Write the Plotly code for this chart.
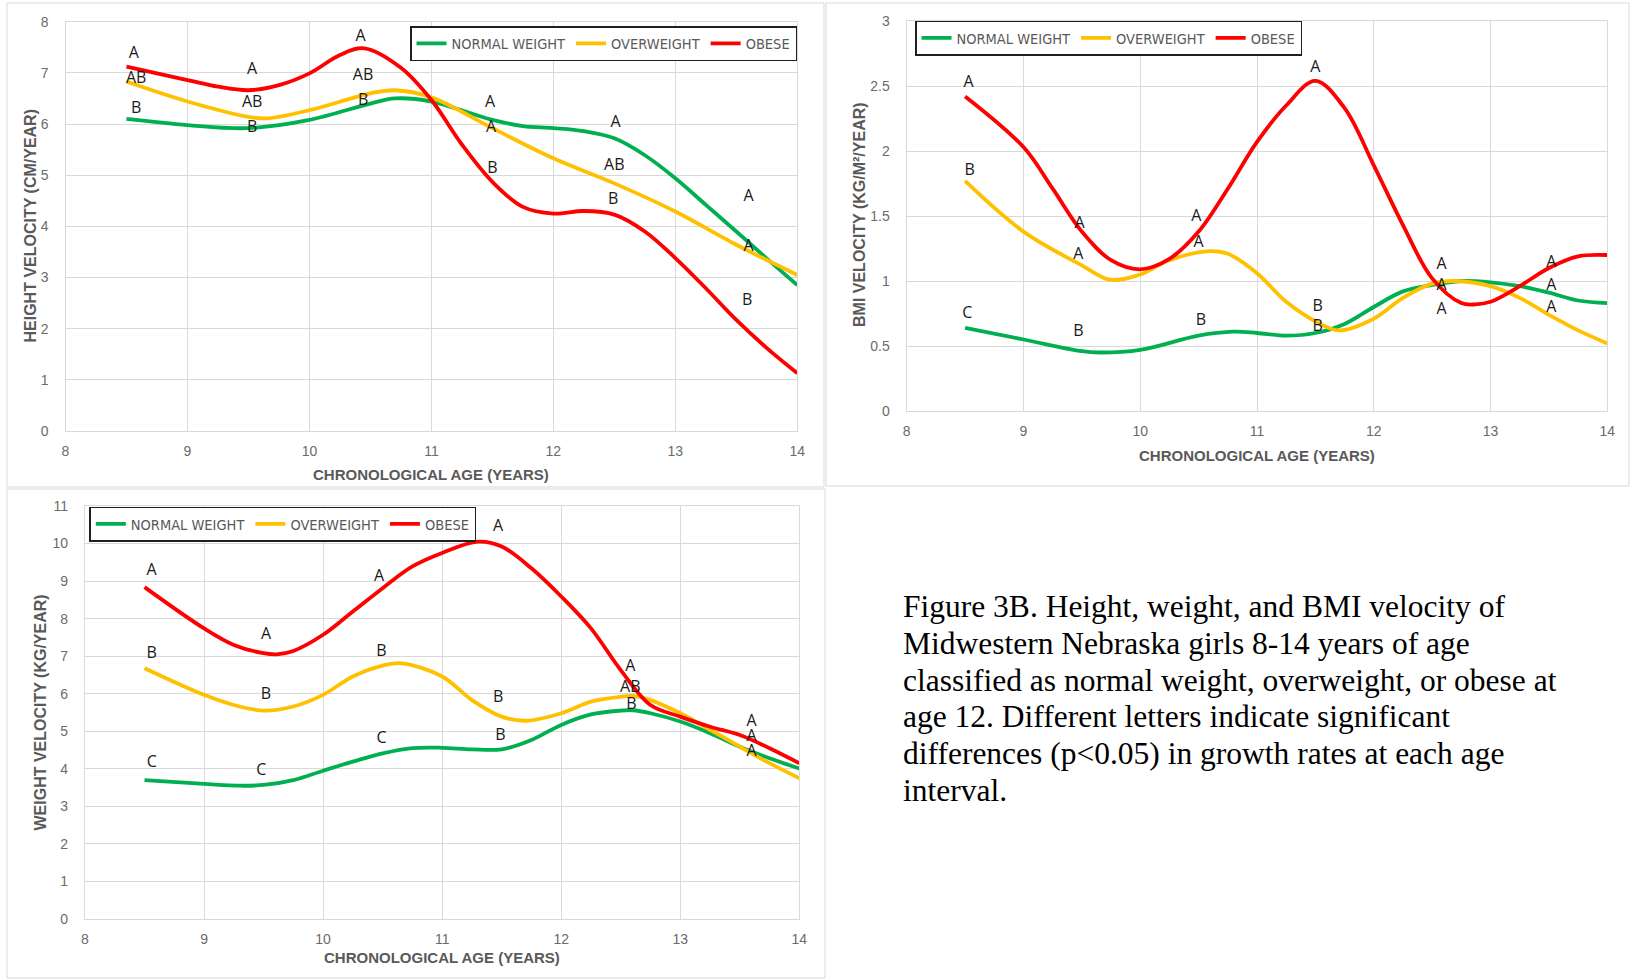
import plotly.graph_objects as go

W, H = 1631, 980

GROUPS = ["NORMAL WEIGHT", "OVERWEIGHT", "OBESE"]
COLORS = ["#00B050", "#FFC000", "#FF0000"]

# ---------------- Height velocity (cm/year) ----------------
HV_NORMAL_AGE = [8.5, 9, 9.5, 10, 10.5, 10.7, 11, 11.5, 11.75, 12, 12.25, 12.5, 12.75, 13, 13.25, 13.5, 13.75, 14]
HV_NORMAL = [6.10, 5.98, 5.92, 6.08, 6.40, 6.50, 6.44, 6.08, 5.96, 5.92, 5.86, 5.72, 5.39, 4.94, 4.42, 3.90, 3.37, 2.85]
HV_OVER_AGE = [8.5, 9, 9.5, 9.65, 10, 10.5, 10.7, 11, 11.5, 12, 12.5, 13, 13.5, 14]
HV_OVER = [6.83, 6.44, 6.14, 6.11, 6.27, 6.60, 6.66, 6.52, 5.92, 5.33, 4.84, 4.29, 3.64, 3.05]
HV_OBESE_AGE = [8.5, 9, 9.25, 9.5, 9.75, 10, 10.25, 10.45, 10.75, 11, 11.25, 11.5, 11.75, 12, 12.25, 12.5, 12.75, 13, 13.25, 13.5, 13.75, 14]
HV_OBESE = [7.12, 6.86, 6.73, 6.66, 6.76, 6.99, 7.35, 7.48, 7.10, 6.47, 5.60, 4.87, 4.38, 4.25, 4.30, 4.23, 3.90, 3.38, 2.79, 2.17, 1.62, 1.13]

HV_LETTERS = ["A", "A", "A", "B", "B", "B",
              "AB", "AB", "AB", "A", "AB", "A",
              "B", "B", "B", "A", "A", "A"]
HV_LETTER_AGE = [8.56, 9.53, 10.42, 11.50, 12.49, 13.59,
                 8.58, 9.53, 10.44, 11.49, 12.50, 13.60,
                 8.58, 9.53, 10.44, 11.48, 12.51, 13.60]
HV_LETTER_Y = [7.36, 7.06, 7.70, 5.13, 4.51, 2.54,
               6.87, 6.42, 6.93, 5.93, 5.17, 3.60,
               6.29, 5.92, 6.44, 6.42, 6.01, 4.58]

# ---------------- BMI velocity (kg/m²/year) ----------------
BMI_NORMAL_AGE = [8.5, 9, 9.5, 9.65, 10, 10.5, 10.8, 11, 11.25, 11.5, 11.75, 12, 12.25, 12.5, 12.75, 13, 13.25, 13.5, 13.75, 14]
BMI_NORMAL = [0.64, 0.55, 0.46, 0.45, 0.47, 0.58, 0.61, 0.60, 0.58, 0.60, 0.67, 0.80, 0.92, 0.97, 1.00, 0.99, 0.96, 0.91, 0.85, 0.83]
BMI_OVER_AGE = [8.5, 9, 9.5, 9.74, 10, 10.25, 10.59, 10.75, 11, 11.25, 11.5, 11.7, 12, 12.25, 12.5, 12.7, 13, 13.25, 13.5, 13.75, 14]
BMI_OVER = [1.77, 1.38, 1.12, 1.01, 1.05, 1.16, 1.23, 1.21, 1.06, 0.84, 0.69, 0.62, 0.71, 0.87, 0.98, 1.00, 0.96, 0.87, 0.74, 0.62, 0.52]
BMI_OBESE_AGE = [8.5, 9, 9.25, 9.5, 9.75, 10, 10.25, 10.5, 10.75, 11, 11.25, 11.5, 11.75, 12, 12.25, 12.5, 12.75, 12.87, 13, 13.25, 13.5, 13.75, 14]
BMI_OBESE = [2.42, 2.03, 1.71, 1.38, 1.16, 1.09, 1.17, 1.38, 1.71, 2.07, 2.35, 2.54, 2.33, 1.89, 1.43, 1.02, 0.83, 0.82, 0.84, 0.96, 1.10, 1.19, 1.20]

BMI_LETTERS = ["A", "A", "A", "A", "A", "A",
               "B", "A", "A", "B", "A", "A",
               "C", "B", "B", "B", "A", "A"]
BMI_LETTER_AGE = [8.53, 9.48, 10.48, 11.50, 12.58, 13.52,
                  8.54, 9.47, 10.50, 11.52, 12.58, 13.52,
                  8.52, 9.47, 10.52, 11.52, 12.58, 13.52]
BMI_LETTER_Y = [2.52, 1.44, 1.49, 2.64, 1.12, 1.14,
                1.85, 1.20, 1.29, 0.80, 0.96, 0.96,
                0.75, 0.61, 0.69, 0.65, 0.78, 0.79]

# ---------------- Weight velocity (kg/year) ----------------
WV_NORMAL_AGE = [8.5, 9, 9.3, 9.5, 9.75, 10, 10.25, 10.5, 10.75, 11, 11.25, 11.5, 11.75, 12, 12.25, 12.5, 12.6, 12.75, 13, 13.25, 13.5, 13.75, 14]
WV_NORMAL = [3.70, 3.60, 3.55, 3.57, 3.70, 3.95, 4.19, 4.41, 4.55, 4.56, 4.52, 4.52, 4.77, 5.17, 5.45, 5.55, 5.56, 5.48, 5.26, 4.95, 4.59, 4.28, 4.01]
WV_OVER_AGE = [8.5, 9, 9.25, 9.5, 9.75, 10, 10.25, 10.5, 10.66, 11, 11.25, 11.5, 11.7, 12, 12.25, 12.5, 12.6, 12.75, 13, 13.25, 13.5, 13.75, 14]
WV_OVER = [6.68, 5.97, 5.70, 5.55, 5.66, 5.97, 6.46, 6.75, 6.81, 6.46, 5.83, 5.39, 5.28, 5.48, 5.79, 5.92, 5.94, 5.83, 5.48, 5.04, 4.59, 4.15, 3.75]
WV_OBESE_AGE = [8.5, 9, 9.25, 9.5, 9.61, 9.75, 10, 10.25, 10.5, 10.75, 11, 11.3, 11.5, 11.75, 12, 12.25, 12.5, 12.75, 13, 13.25, 13.5, 13.75, 14]
WV_OBESE = [8.84, 7.74, 7.30, 7.08, 7.05, 7.14, 7.57, 8.19, 8.81, 9.39, 9.75, 10.05, 9.92, 9.34, 8.59, 7.74, 6.63, 5.70, 5.39, 5.12, 4.90, 4.55, 4.15]

WV_LETTERS = ["A", "A", "A", "A", "A", "A",
              "B", "B", "B", "B", "AB", "A",
              "C", "C", "C", "B", "B", "A"]
WV_LETTER_AGE = [8.56, 9.52, 10.47, 11.47, 12.58, 13.60,
                 8.56, 9.52, 10.49, 11.47, 12.58, 13.60,
                 8.56, 9.48, 10.49, 11.49, 12.59, 13.60]
WV_LETTER_Y = [9.28, 7.57, 9.12, 10.43, 6.72, 5.26,
               7.06, 5.97, 7.10, 5.88, 6.15, 4.84,
               4.15, 3.93, 4.80, 4.88, 5.70, 4.46]

CAPTION_LINES = [
    "Figure 3B. Height, weight, and BMI velocity of",
    "Midwestern Nebraska girls 8-14 years of age",
    "classified as normal weight, overweight, or obese at",
    "age 12. Different letters indicate significant",
    "differences (p&lt;0.05) in growth rates at each age",
    "interval.",
]


def px(xp):
    return xp / W


def py(yp):
    return 1 - yp / H


LEGEND_FONT = "Liberation Sans Narrow, Arial Narrow, DejaVu Sans Condensed, sans-serif"
SANS = "Liberation Sans, Arial, sans-serif"
GREY = "#595959"
GRID = "#D9D9D9"

panels = [
    dict(name="x", ax="xaxis", ay="yaxis", legend="legend",
         series=[(HV_NORMAL_AGE, HV_NORMAL), (HV_OVER_AGE, HV_OVER), (HV_OBESE_AGE, HV_OBESE)],
         letters=(HV_LETTER_AGE, HV_LETTER_Y, HV_LETTERS),
         xdom=[px(65.5), px(797.3)], ydom=[py(431), py(21.7)], yrange=[0, 8], dtick=1,
         xtitle=(431.4, 475), ytitle=(29.5, 226), ytext="HEIGHT VELOCITY (CM/YEAR)",
         leg=(410, 26), frame=(7, 3, 824, 487)),
    dict(name="x2", ax="xaxis2", ay="yaxis2", legend="legend2",
         series=[(BMI_NORMAL_AGE, BMI_NORMAL), (BMI_OVER_AGE, BMI_OVER), (BMI_OBESE_AGE, BMI_OBESE)],
         letters=(BMI_LETTER_AGE, BMI_LETTER_Y, BMI_LETTERS),
         xdom=[px(906.7), px(1607.3)], ydom=[py(411), py(21)], yrange=[0, 3], dtick=0.5,
         xtitle=(1257, 455), ytitle=(860, 215), ytext="BMI VELOCITY (KG/M²/YEAR)",
         leg=(915, 20.5), frame=(826, 3, 1629, 486)),
    dict(name="x3", ax="xaxis3", ay="yaxis3", legend="legend3",
         series=[(WV_NORMAL_AGE, WV_NORMAL), (WV_OVER_AGE, WV_OVER), (WV_OBESE_AGE, WV_OBESE)],
         letters=(WV_LETTER_AGE, WV_LETTER_Y, WV_LETTERS),
         xdom=[px(85), px(799.3)], ydom=[py(919), py(506)], yrange=[0, 11], dtick=1,
         xtitle=(442, 957.5), ytitle=(40, 712.5), ytext="WEIGHT VELOCITY (KG/YEAR)",
         leg=(89.3, 506.5), frame=(7, 489, 825, 978)),
]

fig = go.Figure()
layout = dict(width=W, height=H, margin=dict(l=0, r=0, t=0, b=0, autoexpand=False),
              paper_bgcolor="white", plot_bgcolor="white", showlegend=True)
annotations = []
shapes = []

for p in panels:
    xa = p["name"]
    ya = "y" + xa[1:]
    for (ages, vals), grp, col in zip(p["series"], GROUPS, COLORS):
        fig.add_trace(go.Scatter(
            x=ages, y=vals, mode="lines", name=grp,
            line=dict(color=col, width=3.8, shape="spline", smoothing=1.0),
            xaxis=xa, yaxis=ya, legend=p["legend"], hoverinfo="skip"))
    la, ly, lt = p["letters"]
    fig.add_trace(go.Scatter(
        x=la, y=ly, text=lt, mode="text", textposition="middle center",
        textfont=dict(family="Open Sans, Liberation Sans, sans-serif", size=16, color="#1a1a1a"),
        xaxis=xa, yaxis=ya, showlegend=False, hoverinfo="skip", cliponaxis=False))

    axis_common = dict(showgrid=True, gridcolor=GRID, gridwidth=1.2,
                       showline=True, linecolor=GRID, linewidth=1.2, mirror=True,
                       zeroline=False, ticks="",
                       tickfont=dict(family=SANS, size=14, color="#6b6b6b"))
    layout[p["ax"]] = dict(domain=p["xdom"], range=[8, 14], dtick=1, tick0=8,
                           anchor=ya, ticklabelstandoff=7, **axis_common)
    layout[p["ay"]] = dict(domain=p["ydom"], range=p["yrange"], dtick=p["dtick"], tick0=0,
                           anchor=xa, ticklabelstandoff=13, **axis_common)

    lx, lyy = p["leg"]
    layout[p["legend"]] = dict(x=px(lx), y=py(lyy), xanchor="left", yanchor="top",
                               orientation="h", bgcolor="white",
                               bordercolor="#1f1f1f", borderwidth=1.5,
                               itemwidth=30, itemclick=False,
                               font=dict(family=LEGEND_FONT, size=14.5, color=GREY))

    tx, ty = p["xtitle"]
    annotations.append(dict(text="CHRONOLOGICAL AGE (YEARS)", x=px(tx), y=py(ty),
                            xref="paper", yref="paper", showarrow=False,
                            xanchor="center", yanchor="middle",
                            font=dict(family=SANS, size=15, color=GREY, weight="bold")))
    yx, yy = p["ytitle"]
    annotations.append(dict(text=p["ytext"], x=px(yx), y=py(yy), textangle=-90,
                            xref="paper", yref="paper", showarrow=False,
                            xanchor="center", yanchor="middle",
                            font=dict(family=SANS, size=16, color=GREY, weight="bold")))
    x0, y0, x1, y1 = p["frame"]
    shapes.append(dict(type="rect", xref="paper", yref="paper",
                       x0=px(x0), x1=px(x1), y0=py(y1), y1=py(y0),
                       line=dict(color=GRID, width=1)))

# Figure caption, one annotation per line
CAPTION_TOP = 606.5
CAPTION_STEP = 36.8
for k, line in enumerate(CAPTION_LINES):
    annotations.append(dict(text=line, x=px(901), y=py(CAPTION_TOP + k * CAPTION_STEP),
                            xref="paper", yref="paper", showarrow=False,
                            xanchor="left", yanchor="middle", align="left",
                            font=dict(family="Liberation Serif, Times New Roman, serif",
                                      size=31.5, color="black")))

layout["annotations"] = annotations
layout["shapes"] = shapes
fig.update_layout(**layout)

fig.write_html("out.html")
